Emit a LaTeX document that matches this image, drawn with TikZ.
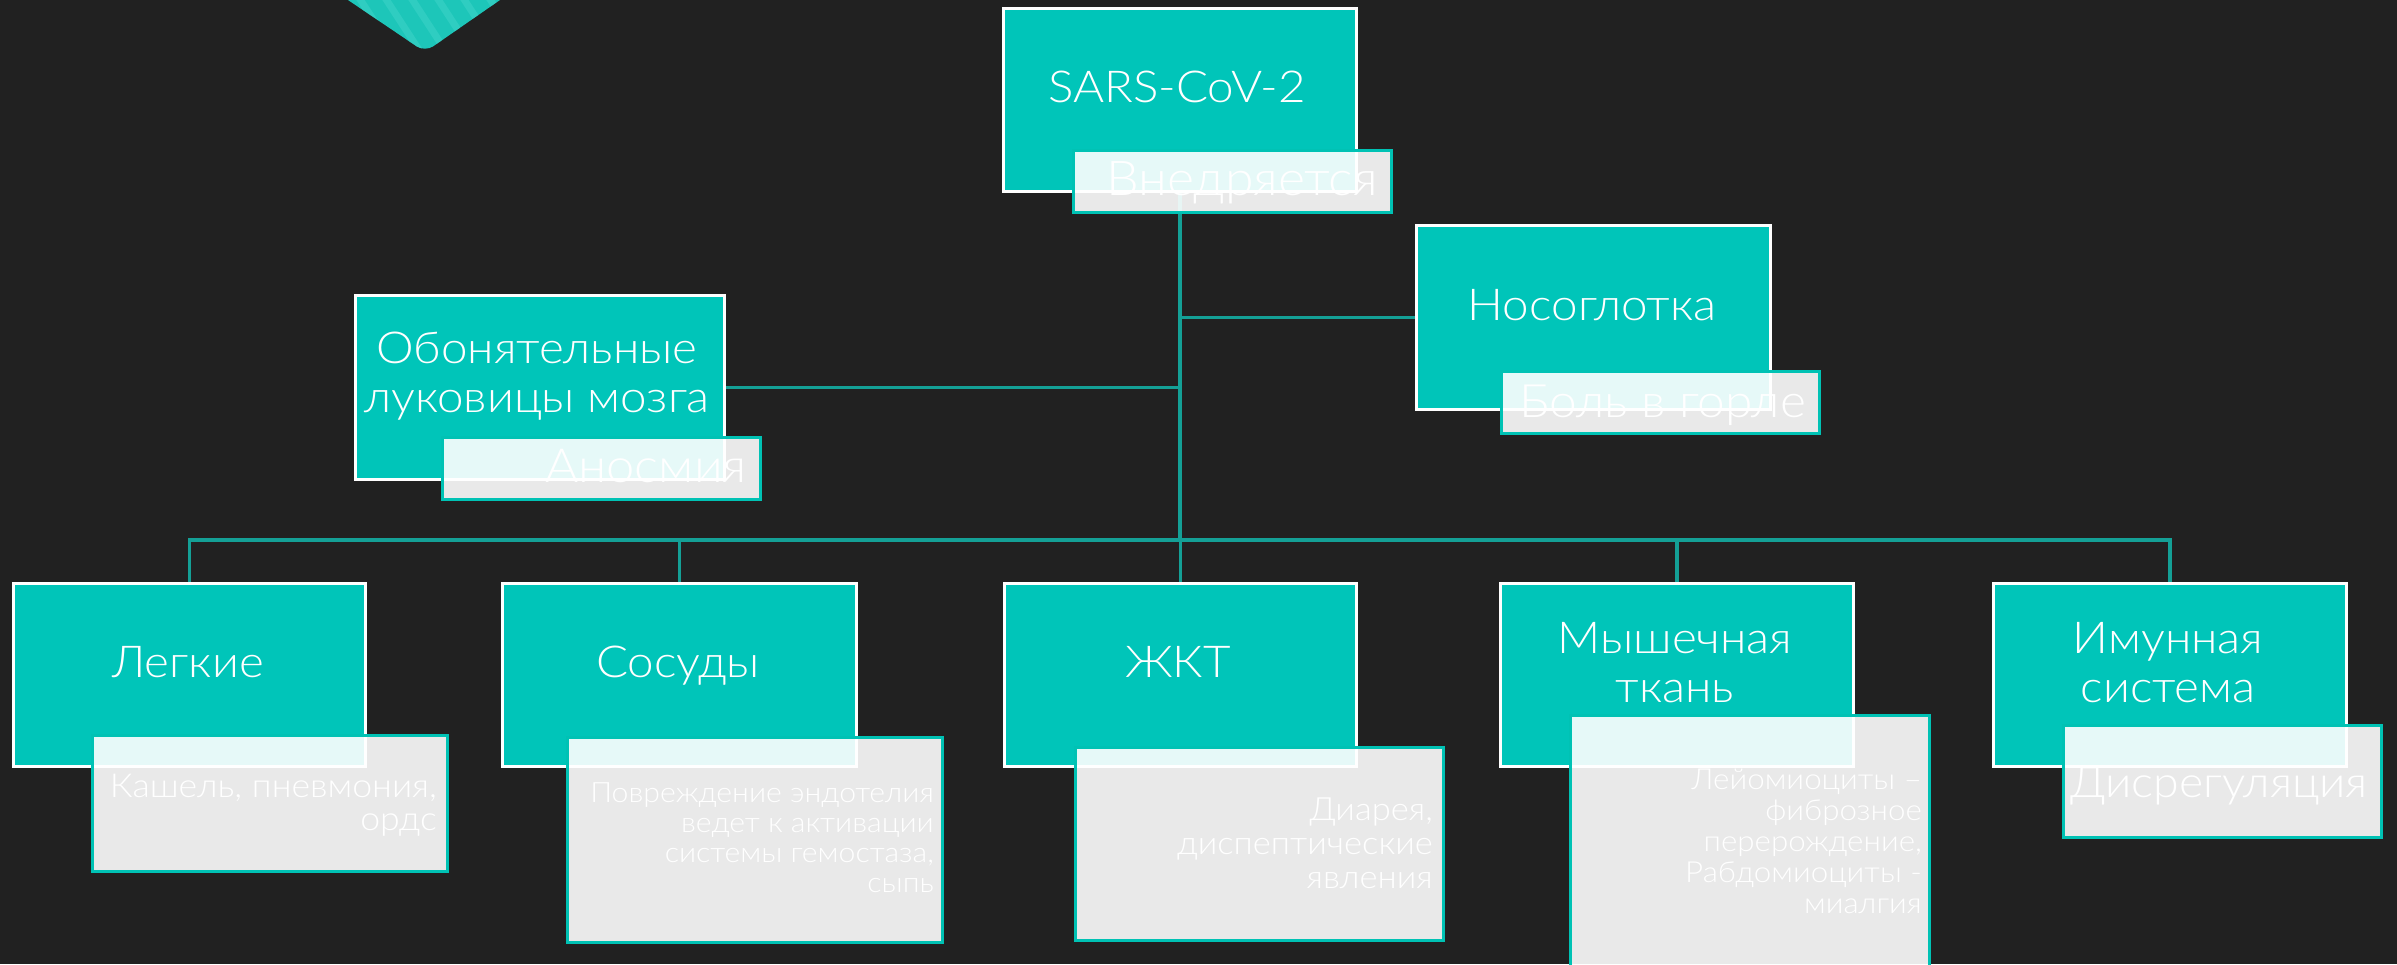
\documentclass[tikz,border=0pt]{standalone}
\usepackage{fontspec}
\IfFontExistsTF{Lato Light}{\setmainfont{Lato Light}[FakeStretch=1.08]}{\setmainfont{Lato}[FakeStretch=1.08]}
\usetikzlibrary{calc}
\definecolor{bgcol}{HTML}{212121}
\definecolor{maincol}{HTML}{00C5B9}
\definecolor{subline}{HTML}{00C2B4}
\definecolor{linkcol}{HTML}{14A096}
\definecolor{decoA}{HTML}{1DC6B9}
\definecolor{decoB}{HTML}{45D6CB}
\begin{document}
\begin{tikzpicture}[x=1pt,y=-1pt,
  mainbox/.style={draw=white, line width=3pt, fill=maincol, inner sep=0pt, anchor=north west},
  subbox/.style={draw=subline, line width=3pt, fill=white, fill opacity=0.9, inner sep=0pt, anchor=north west},
  conn/.style={draw=linkcol, line width=3.5pt},
  maintxt/.style={text=white, align=center, inner sep=0pt, anchor=base, font=\fontsize{44}{49}\selectfont},
  subtxt/.style={text=white, align=right, inner sep=0pt, anchor=base east}
]
\useasboundingbox (0,0) rectangle (2397,964);
\fill[bgcol] (0,0) rectangle (2397,964);

% decoration
\begin{scope}
  \clip[rounded corners=10pt] (194,-104) -- (425,52) -- (650,-104) -- cycle;
  \fill[decoA] (150,-120) rectangle (700,70);
  \foreach \i in {0,...,22} {
    \draw[decoB, line width=7pt, opacity=0.45] (120+\i*26,-130) -- ++(130,200);
  }
\end{scope}

% main boxes
\node[mainbox, minimum width=353, minimum height=183] (sars) at (1002,7) {};
\node[mainbox, minimum width=369, minimum height=184] (olf) at (354,294) {};
\node[mainbox, minimum width=354, minimum height=184] (naso) at (1415,224) {};
\node[mainbox, minimum width=352, minimum height=183] (legk) at (12,582) {};
\node[mainbox, minimum width=354, minimum height=183] (sos) at (501,582) {};
\node[mainbox, minimum width=352, minimum height=183] (gkt) at (1003,582) {};
\node[mainbox, minimum width=353, minimum height=183] (mysh) at (1499,582) {};
\node[mainbox, minimum width=353, minimum height=183] (imm) at (1992,582) {};

% connectors
\coordinate (hb) at (1178,540);
\draw[conn] (sars.south) -- (sars.south |- hb);
\draw[conn] (naso.west) -- (naso.west -| sars.south);
\draw[conn] (olf.east) -- (olf.east -| sars.south);
\draw[conn] (legk.north) -- (legk.north |- hb) -- (imm.north |- hb) -- (imm.north);
\draw[conn] (sos.north) -- (sos.north |- hb);
\draw[conn] (gkt.north) -- (gkt.north |- hb);
\draw[conn] (mysh.north) -- (mysh.north |- hb);

% main texts (base = last line)
\node[maintxt] (sars-t) at (1177,102) {SARS-CoV-2};
\node[maintxt] (olf-t) at (537,412) {Обонятельные\\луковицы мозга};
\node[maintxt] (naso-t) at (1592,320) {Носоглотка};
\node[maintxt] (legk-t) at (188,677) {Легкие};
\node[maintxt] (sos-t) at (678,677) {Сосуды};
\node[maintxt] (gkt-t) at (1178,677) {ЖКТ};
\node[maintxt] (mysh-t) at (1675,702) {Мышечная\\ткань};
\node[maintxt] (imm-t) at (2168,702) {Имунная\\система};

% sub boxes
\node[subbox, minimum width=318, minimum height=62] (vnedr) at (1072,149) {};
\node[subbox, minimum width=318, minimum height=62] (anosm) at (441,436) {};
\node[subbox, minimum width=318, minimum height=62] (bol) at (1500,370) {};
\node[subbox, minimum width=355, minimum height=136] (legk-s) at (91,734) {};
\node[subbox, minimum width=375, minimum height=205] (sos-s) at (566,736) {};
\node[subbox, minimum width=368, minimum height=193] (gkt-s) at (1074,746) {};
\node[subbox, minimum width=359, minimum height=262] (mysh-s) at (1569,714) {};
\node[subbox, minimum width=318, minimum height=112] (imm-s) at (2062,724) {};

% sub texts (base = last line)
\node[subtxt, font=\fontsize{48}{52}\selectfont] (vnedr-t) at (1378,195) {Внедряется};
\node[subtxt, font=\fontsize{47}{50}\selectfont] (anosm-t) at (747,482) {Аносмия};
\node[subtxt, font=\fontsize{46}{50}\selectfont] (bol-t) at (1806,417) {Боль в горле};
\node[subtxt, font=\fontsize{33}{33}\selectfont] (legk-st) at (437,830) {Кашель, пневмония,\\ордс};
\node[subtxt, font=\fontsize{28}{30}\selectfont] (sos-st) at (934,892) {Повреждение эндотелия\\ведет к активации\\системы гемостаза,\\сыпь};
\node[subtxt, font=\fontsize{32}{34}\selectfont] (gkt-st) at (1433,888) {Диарея,\\диспептические\\явления};
\node[subtxt, font=\fontsize{29}{31}\selectfont] (mysh-st) at (1922,913) {Лейомиоциты –\\фиброзное\\перерождение,\\Рабдомиоциты -\\миалгия};
\node[subtxt, font=\fontsize{43}{46}\selectfont] (imm-st) at (2368,797) {Дисрегуляция};
\end{tikzpicture}
\end{document}
